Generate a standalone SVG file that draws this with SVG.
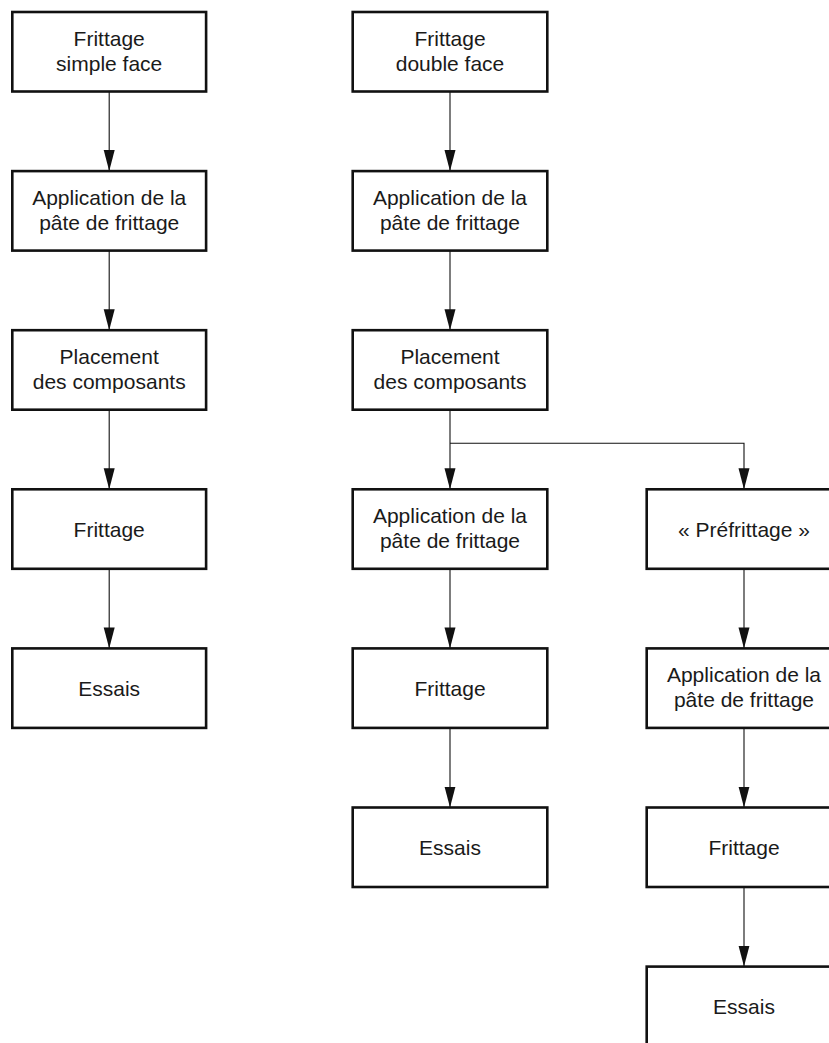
<svg xmlns="http://www.w3.org/2000/svg" width="829" height="1043" viewBox="0 0 829 1043">
<style>
.box{fill:#fff;stroke:#111;stroke-width:2.6}
.t{font-family:"Liberation Sans",Arial,sans-serif;font-size:21px;fill:#1a1a1a;text-anchor:middle}
.c{fill:none;stroke:#111;stroke-width:1.1}
</style>
<defs>
<marker id="arr" markerUnits="userSpaceOnUse" markerWidth="21" markerHeight="12" refX="21" refY="5.5" orient="auto" viewBox="0 0 21 11">
<path d="M0,0 L21,5.5 L0,11 Z" fill="#111"/>
</marker>
</defs>
<g id="connectors">
<path class="c" marker-end="url(#arr)" d="M109.2,92 V171.1"/>
<path class="c" marker-end="url(#arr)" d="M109.2,251 V330.2"/>
<path class="c" marker-end="url(#arr)" d="M109.2,410 V489.3"/>
<path class="c" marker-end="url(#arr)" d="M109.2,569 V648.4"/>
<path class="c" marker-end="url(#arr)" d="M450,92 V171.1"/>
<path class="c" marker-end="url(#arr)" d="M450,251 V330.2"/>
<path class="c" marker-end="url(#arr)" d="M450,410 V489.3"/>
<path class="c" marker-end="url(#arr)" d="M450,443.3 H744 V489.3"/>
<path class="c" marker-end="url(#arr)" d="M450,569 V648.4"/>
<path class="c" marker-end="url(#arr)" d="M450,728 V807.5"/>
<path class="c" marker-end="url(#arr)" d="M744,569 V648.4"/>
<path class="c" marker-end="url(#arr)" d="M744,728 V807.5"/>
<path class="c" marker-end="url(#arr)" d="M744,887 V966.6"/>
</g>
<g id="n1"><rect class="box" x="12.3" y="12" width="193.8" height="79.5"/><text class="t" x="109.2" y="46">Frittage</text><text class="t" x="109.2" y="70.5">simple face</text></g>
<g id="n2"><rect class="box" x="12.3" y="171.1" width="193.8" height="79.5"/><text class="t" x="109.2" y="205.1">Application de la</text><text class="t" x="109.2" y="229.6">pâte de frittage</text></g>
<g id="n3"><rect class="box" x="12.3" y="330.2" width="193.8" height="79.5"/><text class="t" x="109.2" y="364.2">Placement</text><text class="t" x="109.2" y="388.7">des composants</text></g>
<g id="n4"><rect class="box" x="12.3" y="489.3" width="193.8" height="79.5"/><text class="t" x="109.2" y="536.5">Frittage</text></g>
<g id="n5"><rect class="box" x="12.3" y="648.4" width="193.8" height="79.5"/><text class="t" x="109.2" y="695.6">Essais</text></g>
<g id="m1"><rect class="box" x="352.7" y="12" width="194.6" height="79.5"/><text class="t" x="450" y="46">Frittage</text><text class="t" x="450" y="70.5">double face</text></g>
<g id="m2"><rect class="box" x="352.7" y="171.1" width="194.6" height="79.5"/><text class="t" x="450" y="205.1">Application de la</text><text class="t" x="450" y="229.6">pâte de frittage</text></g>
<g id="m3"><rect class="box" x="352.7" y="330.2" width="194.6" height="79.5"/><text class="t" x="450" y="364.2">Placement</text><text class="t" x="450" y="388.7">des composants</text></g>
<g id="m4"><rect class="box" x="352.7" y="489.3" width="194.6" height="79.5"/><text class="t" x="450" y="523.3">Application de la</text><text class="t" x="450" y="547.8">pâte de frittage</text></g>
<g id="m5"><rect class="box" x="352.7" y="648.4" width="194.6" height="79.5"/><text class="t" x="450" y="695.6">Frittage</text></g>
<g id="m6"><rect class="box" x="352.7" y="807.5" width="194.6" height="79.5"/><text class="t" x="450" y="854.7">Essais</text></g>
<g id="r1"><rect class="box" x="646.7" y="489.3" width="194.6" height="79.5"/><text class="t" x="744" y="536.5">« Préfrittage »</text></g>
<g id="r2"><rect class="box" x="646.7" y="648.4" width="194.6" height="79.5"/><text class="t" x="744" y="682.4">Application de la</text><text class="t" x="744" y="706.9">pâte de frittage</text></g>
<g id="r3"><rect class="box" x="646.7" y="807.5" width="194.6" height="79.5"/><text class="t" x="744" y="854.7">Frittage</text></g>
<g id="r4"><rect class="box" x="646.7" y="966.6" width="194.6" height="79.5"/><text class="t" x="744" y="1013.8">Essais</text></g>
</svg>
